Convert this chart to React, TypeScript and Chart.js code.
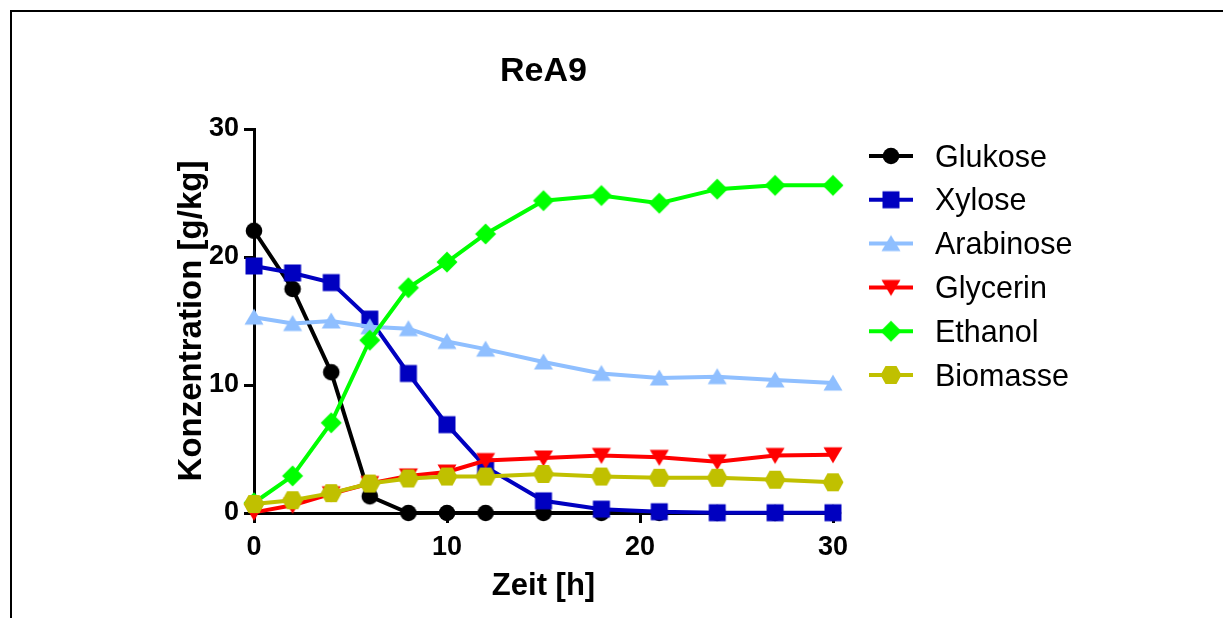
import React, { useEffect, useRef } from 'react';
import { Chart, registerables } from 'chart.js';

Chart.register(...registerables);

// ---- data ----
const hours = [0, 2, 4, 6, 8, 10, 12, 15, 18, 21, 24, 27, 30];
const glukose = [22.05, 17.5, 11.0, 1.3, 0, 0, 0, 0, 0, 0, 0, 0, 0];
const xylose = [19.3, 18.75, 18.0, 15.15, 10.9, 6.9, 3.6, 0.95, 0.3, 0.1, 0.02, 0.02, 0.02];
const arabinose = [15.3, 14.8, 15.0, 14.55, 14.4, 13.4, 12.8, 11.8, 10.9, 10.55, 10.65, 10.4, 10.15];
const glycerin = [0.05, 0.6, 1.5, 2.3, 2.9, 3.2, 4.1, 4.3, 4.5, 4.35, 4.0, 4.5, 4.55];
const ethanol = [0.8, 2.9, 7.05, 13.5, 17.6, 19.6, 21.8, 24.4, 24.8, 24.2, 25.3, 25.6, 25.6];
const biomasse = [0.7, 1.0, 1.55, 2.3, 2.7, 2.85, 2.85, 3.05, 2.85, 2.75, 2.75, 2.6, 2.4];

const seriesNames = ['Glukose', 'Xylose', 'Arabinose', 'Glycerin', 'Ethanol', 'Biomasse'];
const seriesValues = [glukose, xylose, arabinose, glycerin, ethanol, biomasse];
const seriesColors = ['#000000', '#0000C0', '#8FBFFF', '#FF0000', '#00FF00', '#C0C000'];
const seriesShapes = ['circle', 'square', 'triUp', 'triDown', 'diamond', 'hexagon'];

const xTicks = [0, 10, 20, 30];
const yTicks = [0, 10, 20, 30];
const chartTitle = 'ReA9';
const xTitle = 'Zeit [h]';
const yTitle = 'Konzentration [g/kg]';

const FONT = '"Liberation Sans", Arial, Helvetica, sans-serif';

function makeMarker(shape: string, color: string): HTMLCanvasElement {
  const c = document.createElement('canvas');
  c.width = 26;
  c.height = 26;
  const ctx = c.getContext('2d')!;
  const cx = 13;
  const cy = 13;
  ctx.fillStyle = color;
  ctx.beginPath();
  switch (shape) {
    case 'circle':
      ctx.arc(cx, cy, 8.3, 0, Math.PI * 2);
      break;
    case 'square':
      ctx.rect(cx - 8.5, cy - 8.5, 17, 17);
      break;
    case 'triUp':
      ctx.moveTo(cx, cy - 8.5);
      ctx.lineTo(cx + 9.5, cy + 7.5);
      ctx.lineTo(cx - 9.5, cy + 7.5);
      break;
    case 'triDown':
      ctx.moveTo(cx, cy + 8.5);
      ctx.lineTo(cx + 9.5, cy - 7.5);
      ctx.lineTo(cx - 9.5, cy - 7.5);
      break;
    case 'diamond':
      ctx.moveTo(cx, cy - 10.5);
      ctx.lineTo(cx + 10.5, cy);
      ctx.lineTo(cx, cy + 10.5);
      ctx.lineTo(cx - 10.5, cy);
      break;
    case 'hexagon':
      ctx.moveTo(cx - 10.5, cy);
      ctx.lineTo(cx - 5.5, cy - 9);
      ctx.lineTo(cx + 5.5, cy - 9);
      ctx.lineTo(cx + 10.5, cy);
      ctx.lineTo(cx + 5.5, cy + 9);
      ctx.lineTo(cx - 5.5, cy + 9);
      break;
  }
  ctx.closePath();
  ctx.fill();
  return c;
}

export default function App() {
  const ref = useRef<HTMLCanvasElement | null>(null);

  useEffect(() => {
    document.body.style.margin = '0';
    const canvas = ref.current;
    if (!canvas) return;

    const markers = seriesShapes.map((s, i) => makeMarker(s, seriesColors[i]));

    const datasets = seriesNames.map((name, i) => ({
      label: name,
      data: hours.map((h, j) => ({ x: h, y: seriesValues[i][j] })),
      borderColor: seriesColors[i],
      backgroundColor: seriesColors[i],
      borderWidth: 4,
      pointStyle: markers[i],
      pointRadius: 9,
      tension: 0,
      clip: false as any,
      order: seriesNames.length - i,
    }));

    const framePlugin = {
      id: 'frame',
      beforeDraw(chart: any) {
        const ctx = chart.ctx;
        ctx.save();
        ctx.fillStyle = '#000';
        ctx.fillRect(10, 10, chart.width - 10, 2);
        ctx.fillRect(10, 10, 2, chart.height - 10);
        ctx.restore();
      },
    };

    const titleLegendPlugin = {
      id: 'titleLegend',
      afterDraw(chart: any) {
        const ctx = chart.ctx;
        const area = chart.chartArea;
        ctx.save();
        // title
        ctx.fillStyle = '#000';
        ctx.font = `bold 34px ${FONT}`;
        ctx.textAlign = 'center';
        ctx.textBaseline = 'alphabetic';
        ctx.fillText(chartTitle, (area.left + area.right) / 2, 81);
        // legend
        ctx.textAlign = 'left';
        ctx.font = `30.5px ${FONT}`;
        chart.data.datasets.forEach((ds: any, i: number) => {
          const y = 156 + i * 43.8;
          ctx.strokeStyle = ds.borderColor;
          ctx.lineWidth = 4;
          ctx.beginPath();
          ctx.moveTo(869, y);
          ctx.lineTo(913, y);
          ctx.stroke();
          ctx.drawImage(markers[i], 891 - 13, y - 13);
          ctx.fillStyle = '#000';
          ctx.fillText(ds.label, 935, y + 10.5);
        });
        ctx.restore();
      },
    };

    const tickFont = { family: FONT, size: 27, weight: 'bold' as const };

    const chart = new Chart(canvas, {
      type: 'line',
      data: { datasets: datasets as any },
      options: {
        animation: false,
        responsive: false,
        devicePixelRatio: 1,
        layout: { padding: { left: 0, top: 129, right: 390, bottom: 0 } },
        plugins: {
          legend: { display: false },
          title: { display: false },
          tooltip: { enabled: false },
        },
        scales: {
          x: {
            type: 'linear',
            min: 0,
            max: 30,
            afterFit(scale: any) {
              scale.height = 105;
            },
            afterBuildTicks(scale: any) {
              scale.ticks = xTicks.map((v) => ({ value: v }));
            },
            ticks: {
              color: '#000',
              font: tickFont,
              padding: 8,
              maxRotation: 0,
            },
            grid: {
              display: true,
              drawOnChartArea: false,
              drawTicks: true,
              tickLength: 10,
              tickWidth: 3,
              tickColor: '#000',
              lineWidth: 3,
              color: '#000',
            },
            border: { display: true, color: '#000', width: 3 },
            title: {
              display: true,
              text: xTitle,
              color: '#000',
              font: { family: FONT, size: 31, weight: 'bold' as const },
              padding: { top: 0, bottom: 13 },
            },
          },
          y: {
            type: 'linear',
            min: 0,
            max: 30,
            afterFit(scale: any) {
              scale.width = 254;
            },
            afterBuildTicks(scale: any) {
              scale.ticks = yTicks.map((v) => ({ value: v }));
            },
            ticks: {
              color: '#000',
              font: tickFont,
              padding: 5,
            },
            grid: {
              display: true,
              drawOnChartArea: false,
              drawTicks: true,
              tickLength: 10,
              tickWidth: 3,
              tickColor: '#000',
              lineWidth: 3,
              color: '#000',
            },
            border: { display: true, color: '#000', width: 3 },
            title: {
              display: true,
              text: yTitle,
              color: '#000',
              font: { family: FONT, size: 33, weight: 'bold' as const },
              padding: { top: 172, bottom: 0 },
            },
          },
        },
      },
      plugins: [framePlugin, titleLegendPlugin],
    });

    return () => {
      chart.destroy();
    };
  }, []);

  return (
    <div style={{ width: 1223, height: 618 }}>
      <canvas ref={ref} width={1223} height={618} style={{ display: 'block' }} />
    </div>
  );
}
